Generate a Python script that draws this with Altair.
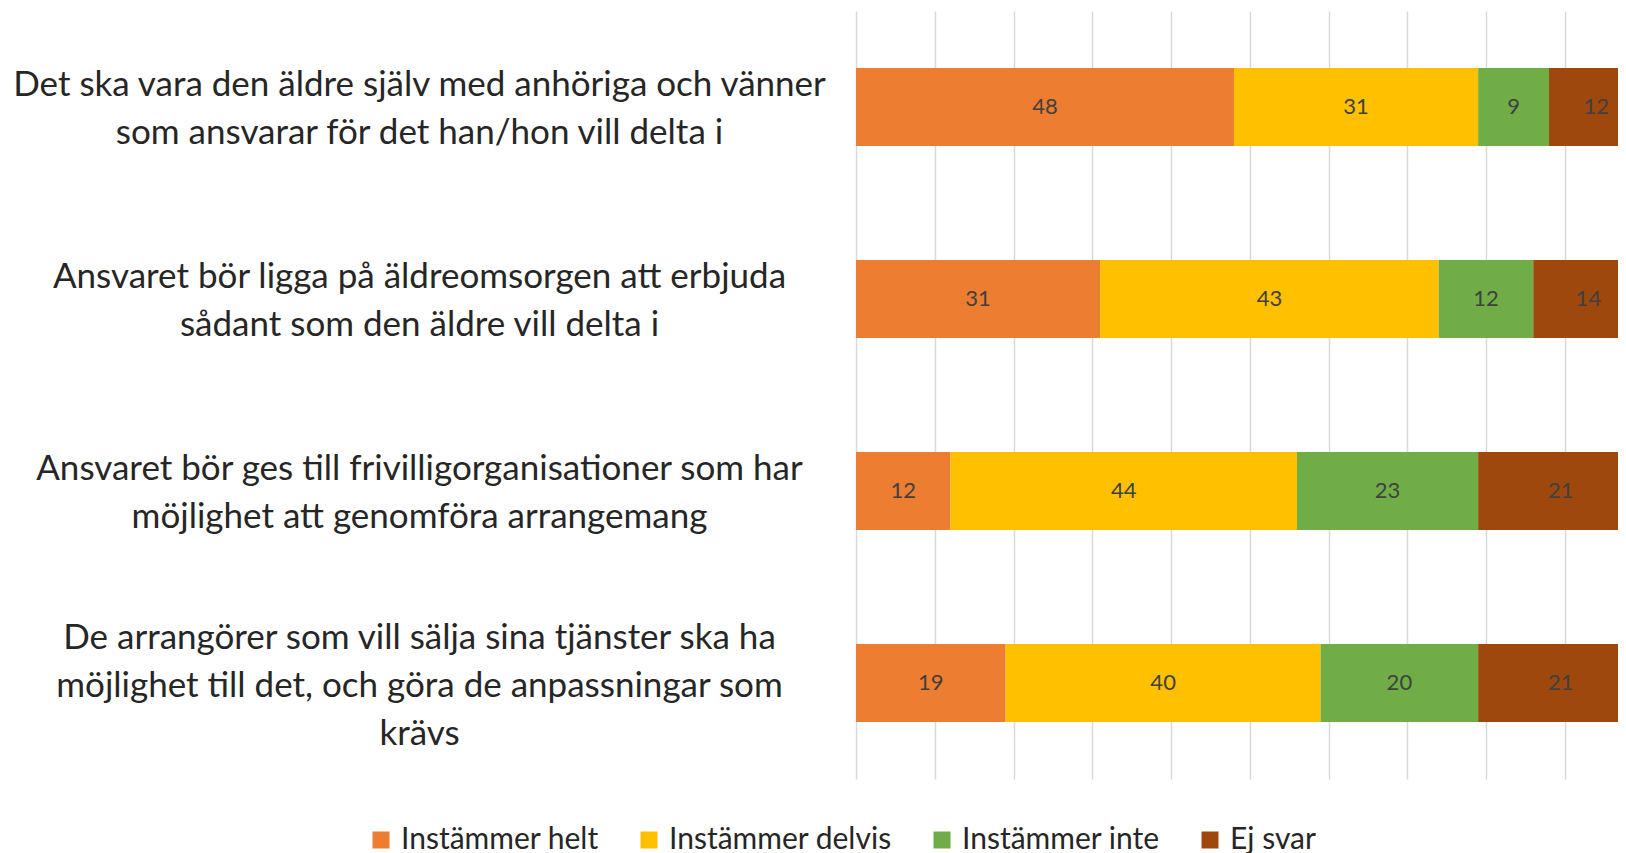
import altair as alt
import pandas as pd

questions = [
    "Det ska vara den äldre själv med anhöriga och vänner|som ansvarar för det han/hon vill delta i",
    "Ansvaret bör ligga på äldreomsorgen att erbjuda|sådant som den äldre vill delta i",
    "Ansvaret bör ges till frivilligorganisationer som har|möjlighet att genomföra arrangemang",
    "De arrangörer som vill sälja sina tjänster ska ha|möjlighet till det, och göra de anpassningar som|krävs",
]
categories = ["Instämmer helt", "Instämmer delvis", "Instämmer inte", "Ej svar"]
colors = ["#ED7D31", "#FFC000", "#70AD47", "#9E480E"]

helt = [48, 31, 12, 19]
delvis = [31, 43, 44, 40]
inte = [9, 12, 23, 20]
ej_svar = [12, 14, 21, 21]

series = [helt, delvis, inte, ej_svar]
rows = []
for ci, (cat, vals) in enumerate(zip(categories, series)):
    for q, v in zip(questions, vals):
        rows.append({"question": q, "category": cat, "order": ci, "value": v})
df = pd.DataFrame(rows)

base = alt.Chart(df).transform_stack(
    stack="value", groupby=["question"], as_=["x0", "x1"],
    sort=[alt.SortField("order", order="ascending")]
).transform_calculate(mid="(datum.x0 + datum.x1) / 2")

y = alt.Y(
    "question:N", sort=questions, title=None,
    scale=alt.Scale(paddingInner=0.594, paddingOuter=0.297),
    axis=alt.Axis(
        labelExpr="split(datum.label, '|')", labelAlign="center", labelBaseline="middle",
        labelOffset=alt.ExprRef(
            "2 - (length(split(datum.label, '|')) - 1) * 24.15 + (length(split(datum.label, '|')) - 2)"
        ),
        labelPadding=437, ticks=False, domain=False, labelFont="Lato",
        labelFontSize=35, labelLineHeight=48.3, labelLimit=2000, labelColor="#262626",
    ),
)

x_scale = alt.Scale(domain=[0, 96.76], nice=False, zero=True)

bars = base.mark_bar(clip=True).encode(
    x=alt.X("x0:Q", scale=x_scale, title=None,
            axis=alt.Axis(values=list(range(0, 100, 10)), labels=False, ticks=False,
                          domain=False, grid=True, gridColor="#D9D9D9", gridWidth=1.5)),
    x2="x1:Q",
    y=y,
    color=alt.Color(
        "category:N", sort=categories,
        scale=alt.Scale(domain=categories, range=colors),
        legend=alt.Legend(
            orient="none", legendX=-490, legendY=814, direction="horizontal", columns=4,
            symbolType="square", symbolSize=289, symbolStrokeWidth=0, title=None,
            labelFont="Lato", labelFontSize=30, labelColor="#262626", labelLimit=1000,
            columnPadding=35, labelOffset=5,
        ),
    ),
)

text = base.mark_text(font="Lato", fontSize=22, color="#404040").encode(
    x=alt.X("mid:Q", scale=x_scale),
    y=y,
    text="value:Q",
)

chart = alt.layer(bars, text).properties(
    width=762, height=768,
    padding={"left": 848, "top": 3, "right": 0, "bottom": 75},
    autosize=alt.AutoSizeParams(type="none"),
).configure_view(stroke=None)

chart.save("out.html", embed_options={"renderer": "svg", "actions": False})
